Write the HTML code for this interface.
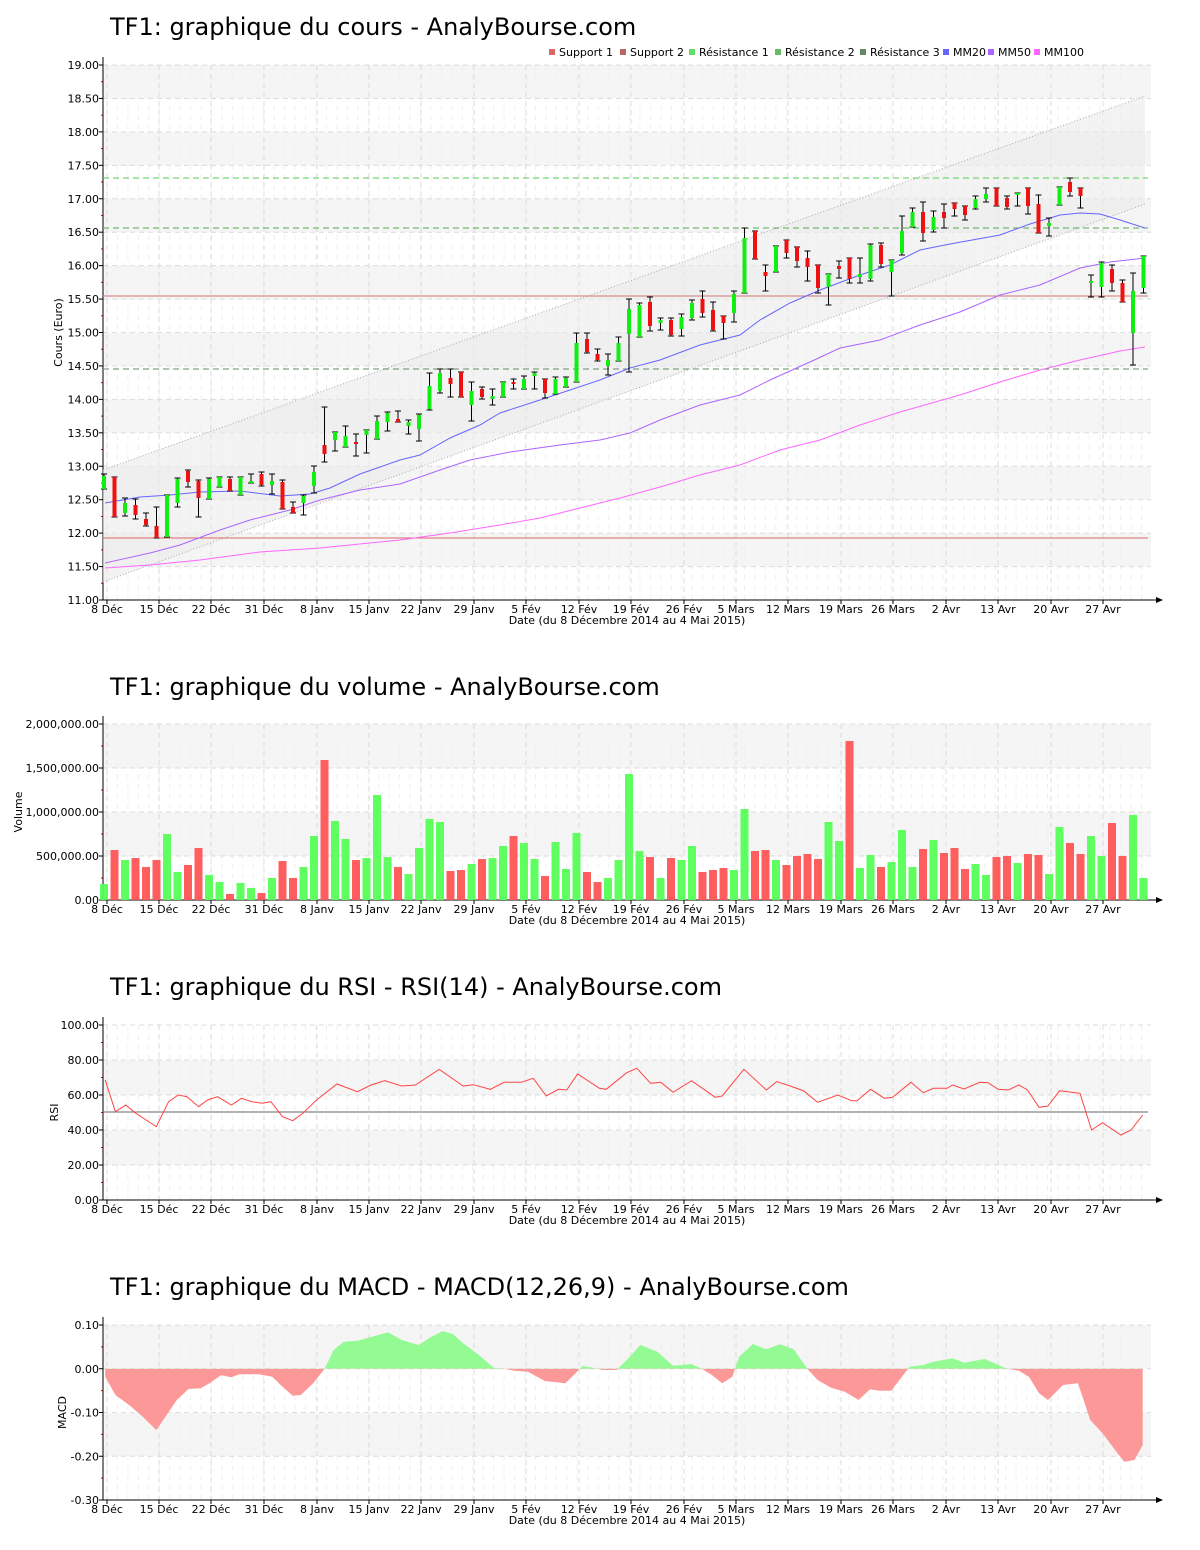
<!DOCTYPE html>
<html><head><meta charset="utf-8">
<style>
html,body{margin:0;padding:0;background:#fff;}
svg{display:block;font-family:"DejaVu Sans","Liberation Sans",sans-serif;}
</style></head>
<body>
<svg id="s" width="1200" height="1550" xmlns="http://www.w3.org/2000/svg"></svg>
<script>
const S=document.getElementById('s');let h='';
const X=i=>104+10.5*i;
const dates=[["8 Déc",107],["15 Déc",159],["22 Déc",211],["31 Déc",264],["8 Janv",317],["15 Janv",369],["22 Janv",421],["29 Janv",474],["5 Fév",526],["12 Fév",579],["19 Fév",631],["26 Fév",684],["5 Mars",736],["12 Mars",788],["19 Mars",841],["26 Mars",893],["2 Avr",946],["13 Avr",998],["20 Avr",1051],["27 Avr",1103]];
function frame(top,bot,ticks,bands,title,ty,ylab,yl){
  bands.forEach(b=>{h+=`<rect x="103" y="${b[0]}" width="1048" height="${b[1]-b[0]}" fill="#f5f5f5"/>`;});
  for(let x=107;x<1150;x+=10.45){h+=`<line x1="${x}" y1="${top}" x2="${x}" y2="${bot}" stroke="#f0f0f0" stroke-dasharray="5,5"/>`;}
  dates.forEach(d=>{h+=`<line x1="${d[1]}" y1="${top}" x2="${d[1]}" y2="${bot}" stroke="#dcdcdc" stroke-dasharray="5,4"/>`;});
  ticks.forEach(t=>{h+=`<line x1="103" y1="${t[1]}" x2="1151" y2="${t[1]}" stroke="#dcdcdc" stroke-dasharray="5,4"/>`;
    h+=`<line x1="99" y1="${t[1]}" x2="103" y2="${t[1]}" stroke="#000"/><text x="99" y="${t[1]+4}" font-size="11" text-anchor="end">${t[0]}</text>`;});
  for(let i=0;i<ticks.length-1;i++){const m=(ticks[i][1]+ticks[i+1][1])/2;h+=`<line x1="101" y1="${m}" x2="103" y2="${m}" stroke="#f00"/>`;}
  h+=`<line x1="103" y1="${top-8}" x2="103" y2="${bot}" stroke="#000"/><line x1="103" y1="${bot}" x2="1158" y2="${bot}" stroke="#000"/>`;
  h+=`<polygon points="1156,${bot-3} 1163,${bot} 1156,${bot+3}" fill="#000"/>`;
  dates.forEach(d=>{h+=`<line x1="${d[1]}" y1="${bot}" x2="${d[1]}" y2="${bot+4}" stroke="#000"/><text x="${d[1]}" y="${bot+13}" font-size="11" text-anchor="middle">${d[0]}</text>`;});
  h+=`<text x="627" y="${bot+24}" font-size="11" text-anchor="middle">Date (du 8 Décembre 2014 au 4 Mai 2015)</text>`;
  h+=`<text x="110" y="${ty}" font-size="24">${title}</text>`;
  const my=(top+bot)/2;h+=`<text transform="translate(${ylab},${my}) rotate(-90)" font-size="11" text-anchor="middle">${yl}</text>`;
}
// ===== Chart 1 =====
const pY=p=>65+(19-p)*66.875;
let t1=[],b1=[];for(let p=19;p>=11;p-=0.5){t1.push([p.toFixed(2),pY(p)]);}
for(let p=19;p>11;p-=1){b1.push([pY(p),pY(p-0.5)]);}
frame(65,600,t1,b1,"TF1: graphique du cours - AnalyBourse.com",35,62,"Cours (Euro)");
h+=`<polygon points="103,470 1145,96 1145,204 103,582" fill="#ebebeb" opacity="0.6"/>`;
h+=`<line x1="103" y1="470" x2="1145" y2="96" stroke="#aaa" stroke-dasharray="1,2"/><line x1="103" y1="582" x2="1145" y2="204" stroke="#aaa" stroke-dasharray="1,2"/>`;
h+=`<line x1="103" y1="538" x2="1148" y2="538" stroke="#d66" /><line x1="103" y1="296" x2="1148" y2="296" stroke="#c77"/>`;
h+=`<line x1="103" y1="178" x2="1148" y2="178" stroke="#5c5" stroke-dasharray="6,4"/><line x1="103" y1="228" x2="1148" y2="228" stroke="#5a5" stroke-dasharray="6,4"/><line x1="103" y1="369" x2="1148" y2="369" stroke="#686" stroke-dasharray="6,4"/>`;
const mm20="105,503 140,497 170,495 200,492 240,491 280,496 310,494 330,488 360,474 400,460 420,455 450,438 480,425 500,413 540,400 570,390 600,380 630,368 660,360 700,345 740,335 760,320 790,303 820,290 860,275 890,265 920,250 950,244 1000,235 1030,224 1060,215 1080,213 1100,214 1120,220 1145,228";
const mm50="105,563 150,553 180,545 220,530 250,520 290,510 320,500 360,490 400,484 440,470 470,460 510,452 560,445 600,440 630,433 660,420 700,405 740,395 770,380 810,362 840,348 880,340 920,325 960,312 1000,295 1040,285 1080,268 1110,262 1145,258";
const mm100="105,568 150,565 200,560 260,552 320,548 400,540 450,533 500,525 540,518 580,508 620,498 660,487 700,475 740,465 780,450 820,440 860,425 900,412 960,395 1000,382 1040,370 1080,360 1120,351 1145,347";
h+=`<polyline points="${mm100}" fill="none" stroke="#f6f"/><polyline points="${mm50}" fill="none" stroke="#a6f"/><polyline points="${mm20}" fill="none" stroke="#66f"/>`;
const C=[[476,489,474,489,1],[477,517,477,517,0],[503,513,498,516,1],[505,515,499,519,0],[519,525,513,526,0],[526,538,507,538,0],[495,537,495,537,1],[479,503,478,507,1],[471,482,470,487,0],[481,498,480,517,0],[479,499,478,499,1],[477,487,477,487,1],[479,491,477,491,0],[477,495,477,495,1],[481,483,474,483,1],[474,485,472,486,0],[481,485,474,494,1],[482,509,480,509,0],[507,513,502,513,0],[496,503,495,515,1],[472,486,466,493,1],[445,454,407,462,0],[432,440,432,451,1],[436,447,426,447,1],[442,444,434,456,0],[430,435,430,453,1],[421,439,416,439,1],[413,422,412,431,1],[419,422,411,422,0],[422,426,420,434,1],[415,429,414,441,1],[386,409,373,410,1],[373,391,369,393,1],[378,384,369,397,0],[372,397,372,397,0],[391,405,382,421,1],[389,397,387,399,0],[396,399,389,405,1],[382,397,382,397,1],[382,384,379,389,0],[379,389,376,389,1],[373,376,372,389,1],[379,393,379,398,0],[379,394,377,394,1],[378,387,377,387,1],[343,382,333,382,1],[339,352,333,353,0],[354,360,349,361,0],[360,366,354,375,1],[343,361,337,361,1],[309,334,299,372,1],[305,337,303,337,1],[302,326,297,331,0],[320,323,318,330,1],[320,335,318,336,0],[317,329,314,336,1],[303,318,300,320,1],[299,313,291,317,0],[310,330,302,331,0],[316,323,316,339,0],[294,313,291,322,1],[238,293,228,293,1],[231,259,231,259,0],[272,276,265,291,0],[246,272,246,272,1],[240,253,240,258,0],[247,261,247,267,0],[258,267,251,281,0],[265,288,265,293,0],[274,287,274,305,1],[266,269,261,278,0],[258,279,258,283,0],[274,277,258,283,1],[245,279,244,281,1],[245,264,243,267,0],[260,272,260,296,1],[231,253,216,255,1],[212,227,208,227,1],[212,233,202,241,0],[217,230,211,232,1],[212,218,204,228,0],[203,209,203,216,0],[206,215,206,220,0],[199,208,196,209,1],[194,199,188,202,1],[188,206,188,206,0],[198,207,196,209,0],[193,194,193,206,1],[188,206,188,214,0],[204,233,195,233,0],[223,226,218,236,1],[187,205,187,205,1],[182,192,178,196,0],[188,196,188,208,0],[281,283,275,297,1],[263,287,262,297,1],[269,283,265,291,0],[283,302,280,302,0],[291,333,273,365,1],[256,288,256,293,1]];
C.forEach((c,i)=>{const x=X(i);h+=`<line x1="${x}" y1="${c[2]}" x2="${x}" y2="${c[3]}" stroke="#000"/><line x1="${x-3}" y1="${c[2]}" x2="${x+3}" y2="${c[2]}" stroke="#000"/><line x1="${x-3}" y1="${c[3]}" x2="${x+3}" y2="${c[3]}" stroke="#000"/>`;
  h+=`<rect x="${x-2}" y="${c[0]}" width="4" height="${Math.max(2,c[1]-c[0])}" fill="${c[4]?'#1e1':'#e11'}"/>`;});
const L=[["Support 1","#d66",549],["Support 2","#b66",620],["Résistance 1","#6d6",689],["Résistance 2","#6b6",775],["Résistance 3","#686",860],["MM20","#66f",943],["MM50","#a6f",988],["MM100","#f6f",1034]];
L.forEach(l=>{h+=`<rect x="${l[2]}" y="49" width="6" height="6" fill="${l[1]}"/><text x="${l[2]+10}" y="56" font-size="11">${l[0]}</text>`;});
// ===== Volume =====
let t2=[],b2=[[724,768],[812,856]];["2,000,000.00","1,500,000.00","1,000,000.00","500,000.00","0.00"].forEach((s,i)=>t2.push([s,724+44*i]));
frame(724,900,t2,b2,"TF1: graphique du volume - AnalyBourse.com",695,22,"Volume");
const V1=[462,360,390,384,411,390,312,426,405,354,435,456,492,459,474,489,444,393,444,411,318,90,273,327,390,384,195,381,411,432,354,267,276,423,420,402,387,384,348,318,339,387,438,336,417,309,426,456,444,390];
const VC1="GRGRRRGGRRGGRGGRGRRGGRGGRGGGRGGGGRRGRGGRGGRGGGRRGG";
const V2=[132,363,381,444,384,390,348,426,420,414,420,237,363,360,390,405,378,372,387,276,333,33,414,375,411,396,300,411,357,330,369,354,417,402,435,381,378,399,372,375,432,291,339,372,318,378,279,378,255,444];
const VC2="GGRGRGGRRRGGRRGRRRRGGRGGRGGGRGRRRGGRRGRRGGRRGGRRGG";
const VV=V1.concat(V2),VC=VC1+VC2;
VV.forEach((z,i)=>{const y=730+z/3,x=X(i);h+=`<rect x="${x-4}" y="${y}" width="8" height="${900-y}" fill="${VC[i]=='G'?'#5f5':'#f55'}" opacity="0.95"/>`;});
// ===== RSI =====
const SX=1.467;
let t3=[],b3=[[1060,1095],[1130,1165]];["100.00","80.00","60.00","40.00","20.00","0.00"].forEach((s,i)=>t3.push([s,1025+35*i]));
frame(1025,1200,t3,b3,"TF1: graphique du RSI - RSI(14) - AnalyBourse.com",995,58,"RSI");
h+=`<line x1="103" y1="1112" x2="1148" y2="1112" stroke="#666"/>`;
const R=[[15,90],[30,185],[45,165],[60,190],[75,210],[90,230],[108,155],[122,135],[135,140],[152,170],[165,150],[180,140],[200,165],[215,145],[230,155],[245,160],[258,155],[275,200],[290,212],[305,190],[325,150],[355,102],[385,125],[405,105],[425,92],[450,108],[470,105],[505,58],[540,108],[555,104],[580,118],[600,97],[625,97],[643,85],[662,138],[680,118],[692,120],[708,72],[740,115],[750,118],[780,68],[795,55],[815,100],[830,97],[848,127],[875,92],[910,142],[920,138],[952,58],[985,120],[1000,95],[1020,108],[1040,123],[1060,157],[1090,135],[1110,152],[1118,152],[1138,118],[1158,145],[1170,142],[1197,97],[1215,128],[1230,115],[1250,115],[1258,105],[1275,117],[1298,97],[1310,98],[1325,118],[1340,120],[1355,105],[1368,120],[1385,172],[1398,168],[1415,122],[1445,130],[1462,240],[1478,218],[1505,255],[1520,240],[1537,195]];
h+=`<polyline fill="none" stroke="#f44" points="${R.map(p=>(95+p[0]/SX).toFixed(1)+','+(1050+p[1]/3).toFixed(1)).join(' ')}"/>`;
// ===== MACD =====
let t4=[],b4=[[1325,1369],[1413,1456]];["0.10","0.00","-0.10","-0.20","-0.30"].forEach((s,i)=>t4.push([s,1325+43.75*i]));
frame(1325,1500,t4,b4,"TF1: graphique du MACD - MACD(12,26,9) - AnalyBourse.com",1295,66,"MACD");
const M=[[15,146],[15,170],[30,225],[50,255],[70,290],[90,330],[105,285],[120,240],[137,207],[155,205],[168,190],[185,166],[200,172],[212,163],[240,163],[260,170],[275,200],[290,227],[302,225],[320,190],[337,146],[350,90],[365,65],[385,62],[430,37],[450,60],[475,75],[490,55],[510,33],[525,42],[540,70],[560,100],[585,143],[600,146],[615,152],[635,155],[660,183],[690,190],[705,160],[715,138],[735,145],[745,150],[765,150],[780,120],[800,75],[825,95],[848,137],[875,132],[890,146],[905,165],[920,190],[935,170],[945,110],[965,72],[985,88],[1005,73],[1025,88],[1045,146],[1060,180],[1080,203],[1100,215],[1120,240],[1137,208],[1150,212],[1168,212],[1195,140],[1215,135],[1230,125],[1258,115],[1275,128],[1305,117],[1320,130],[1337,146],[1355,152],[1370,170],[1385,220],[1398,240],[1420,195],[1442,190],[1460,300],[1478,340],[1500,400],[1510,425],[1525,420],[1537,375],[1537,146]];
const mp=M.map(p=>(95+p[0]/SX).toFixed(1)+','+(1320+p[1]/3).toFixed(1)).join(' ');
h+=`<defs><clipPath id="ca"><rect x="100" y="1300" width="1100" height="68.7"/></clipPath><clipPath id="cb"><rect x="100" y="1368.7" width="1100" height="140"/></clipPath></defs>`;
h+=`<polygon points="${mp}" fill="#94fa94" clip-path="url(#ca)"/><polygon points="${mp}" fill="#fd9898" clip-path="url(#cb)"/>`;
S.innerHTML=h;
</script>
</body></html>
